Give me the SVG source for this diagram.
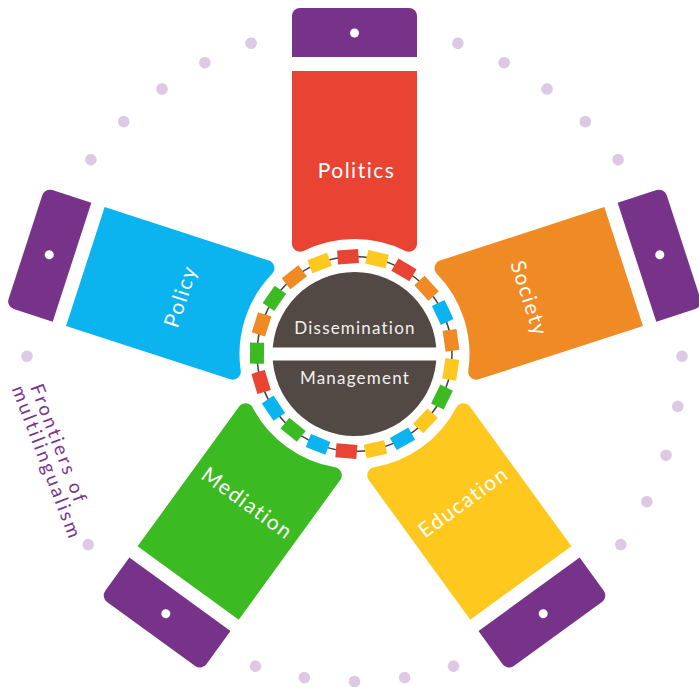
<svg xmlns="http://www.w3.org/2000/svg" xmlns:xlink="http://www.w3.org/1999/xlink" width="699" height="687" viewBox="0 0 699 687">
<style>
  .lbl { font-family: Lato, "Open Sans", "Liberation Sans", sans-serif; font-size: 21px; fill: #ffffff; letter-spacing: 1.5px; text-anchor: middle; }
  .hubtxt { font-family: Lato, "Open Sans", "Liberation Sans", sans-serif; font-size: 17px; fill: #f2f0ee; letter-spacing: 1.2px; text-anchor: middle; }
  .front { font-family: Lato, "Open Sans", "Liberation Sans", sans-serif; font-size: 19px; fill: #7a3590; letter-spacing: 2.6px; }
  .cap { fill: #773289; }
  .hole { fill: #ffffff; }
  .dot { fill: #ddc9e4; }
  .r { fill: #e94433; } .y { fill: #fec81f; } .o { fill: #f08a24; } .b { fill: #0bb3ef; } .g { fill: #3cba22; }
</style>
<defs>
  <path id="petal" d="M -62.5 -283 L -62.5 -110.27 A 8 8 0 0 0 -50.96 -103.1 A 115 115 0 0 1 50.96 -103.1 A 8 8 0 0 0 62.5 -110.27 L 62.5 -283 Z"/>
  <path id="capShape" d="M -62.5 -297 L -62.5 -338 A 8 8 0 0 1 -54.5 -346 L 54.5 -346 A 8 8 0 0 1 62.5 -338 L 62.5 -297 Z"/>
  <rect id="sq" x="-10.5" y="-104.5" width="21" height="14"/>
  <circle id="pd" cx="0" cy="-327.5" r="5.8"/>
</defs>

<!-- outer dotted circle -->
<g id="dots" transform="translate(354.5 354)" class="dot">
  <use xlink:href="#pd" transform="rotate(18.4)"/>
  <use xlink:href="#pd" transform="rotate(27.2)"/>
  <use xlink:href="#pd" transform="rotate(36)"/>
  <use xlink:href="#pd" transform="rotate(44.8)"/>
  <use xlink:href="#pd" transform="rotate(53.6)"/>
  <use xlink:href="#pd" transform="rotate(90.4)"/>
  <use xlink:href="#pd" transform="rotate(99.2)"/>
  <use xlink:href="#pd" transform="rotate(108)"/>
  <use xlink:href="#pd" transform="rotate(116.8)"/>
  <use xlink:href="#pd" transform="rotate(125.6)"/>
  <use xlink:href="#pd" transform="rotate(162.4)"/>
  <use xlink:href="#pd" transform="rotate(171.2)"/>
  <use xlink:href="#pd" transform="rotate(180)"/>
  <use xlink:href="#pd" transform="rotate(188.8)"/>
  <use xlink:href="#pd" transform="rotate(197.6)"/>
  <use xlink:href="#pd" transform="rotate(234.4)"/>
  <use xlink:href="#pd" transform="rotate(269.6)"/>
  <use xlink:href="#pd" transform="rotate(306.4)"/>
  <use xlink:href="#pd" transform="rotate(315.2)"/>
  <use xlink:href="#pd" transform="rotate(324)"/>
  <use xlink:href="#pd" transform="rotate(332.8)"/>
  <use xlink:href="#pd" transform="rotate(341.6)"/>
</g>

<g id="frontiers" transform="translate(30 387) rotate(69)">
  <text class="front" x="0" y="0">Frontiers of</text>
  <text class="front" x="-5" y="18">multilingualism</text>
</g>

<!-- petals -->
<g id="politics" transform="translate(354.5 354) rotate(0)">
  <use xlink:href="#petal" fill="#e94433"/>
  <use xlink:href="#capShape" class="cap"/>
  <circle cx="0" cy="-321" r="4.5" class="hole"/>
  <text class="lbl" x="2" y="-176">Politics</text>
</g>
<g id="society" transform="translate(354.5 354) rotate(72)">
  <use xlink:href="#petal" fill="#f08a24"/>
  <use xlink:href="#capShape" class="cap"/>
  <circle cx="0" cy="-321" r="4.5" class="hole"/>
  <text class="lbl" x="1" y="-176">Society</text>
</g>
<g id="education" transform="translate(354.5 354) rotate(144)">
  <use xlink:href="#petal" fill="#fec81f"/>
  <use xlink:href="#capShape" class="cap"/>
  <circle cx="0" cy="-321" r="4.5" class="hole"/>
  <text class="lbl" x="1" y="-176" transform="rotate(180 0 -183.5)">Education</text>
</g>
<g id="mediation" transform="translate(354.5 354) rotate(216)">
  <use xlink:href="#petal" fill="#3cba22"/>
  <use xlink:href="#capShape" class="cap"/>
  <circle cx="0" cy="-321" r="4.5" class="hole"/>
  <text class="lbl" x="1" y="-176" transform="rotate(180 0 -183.5)">Mediation</text>
</g>
<g id="policy" transform="translate(354.5 354) rotate(288)">
  <use xlink:href="#petal" fill="#0bb3ef"/>
  <use xlink:href="#capShape" class="cap"/>
  <circle cx="0" cy="-321" r="4.5" class="hole"/>
  <text class="lbl" x="1" y="-176">Policy</text>
</g>

<!-- hub -->
<g id="hub" transform="translate(354.5 354)">
  <circle cx="0" cy="0" r="97.5" fill="none" stroke="#444040" stroke-width="1.5"/>
  <use xlink:href="#sq" class="r" transform="rotate(-3.8)"/>
  <use xlink:href="#sq" class="y" transform="rotate(13.34)"/>
  <use xlink:href="#sq" class="r" transform="rotate(30.49)"/>
  <use xlink:href="#sq" class="o" transform="rotate(47.63)"/>
  <use xlink:href="#sq" class="b" transform="rotate(64.77)"/>
  <use xlink:href="#sq" class="o" transform="rotate(81.91)"/>
  <use xlink:href="#sq" class="y" transform="rotate(99.06)"/>
  <use xlink:href="#sq" class="g" transform="rotate(116.2)"/>
  <use xlink:href="#sq" class="y" transform="rotate(133.34)"/>
  <use xlink:href="#sq" class="b" transform="rotate(150.49)"/>
  <use xlink:href="#sq" class="y" transform="rotate(167.63)"/>
  <use xlink:href="#sq" class="r" transform="rotate(184.77)"/>
  <use xlink:href="#sq" class="b" transform="rotate(201.91)"/>
  <use xlink:href="#sq" class="g" transform="rotate(219.06)"/>
  <use xlink:href="#sq" class="b" transform="rotate(236.2)"/>
  <use xlink:href="#sq" class="r" transform="rotate(253.34)"/>
  <use xlink:href="#sq" class="g" transform="rotate(270.49)"/>
  <use xlink:href="#sq" class="o" transform="rotate(287.63)"/>
  <use xlink:href="#sq" class="g" transform="rotate(304.77)"/>
  <use xlink:href="#sq" class="o" transform="rotate(321.91)"/>
  <use xlink:href="#sq" class="y" transform="rotate(339.06)"/>
  <circle cx="0" cy="0" r="82" fill="#524844"/>
  <rect x="-90" y="-6.5" width="180" height="13" fill="#ffffff"/>
</g>
<g id="dissemination">
  <text class="hubtxt" x="355" y="334">Dissemination</text>
</g>
<g id="management">
  <text class="hubtxt" x="355" y="384">Management</text>
</g>
</svg>
